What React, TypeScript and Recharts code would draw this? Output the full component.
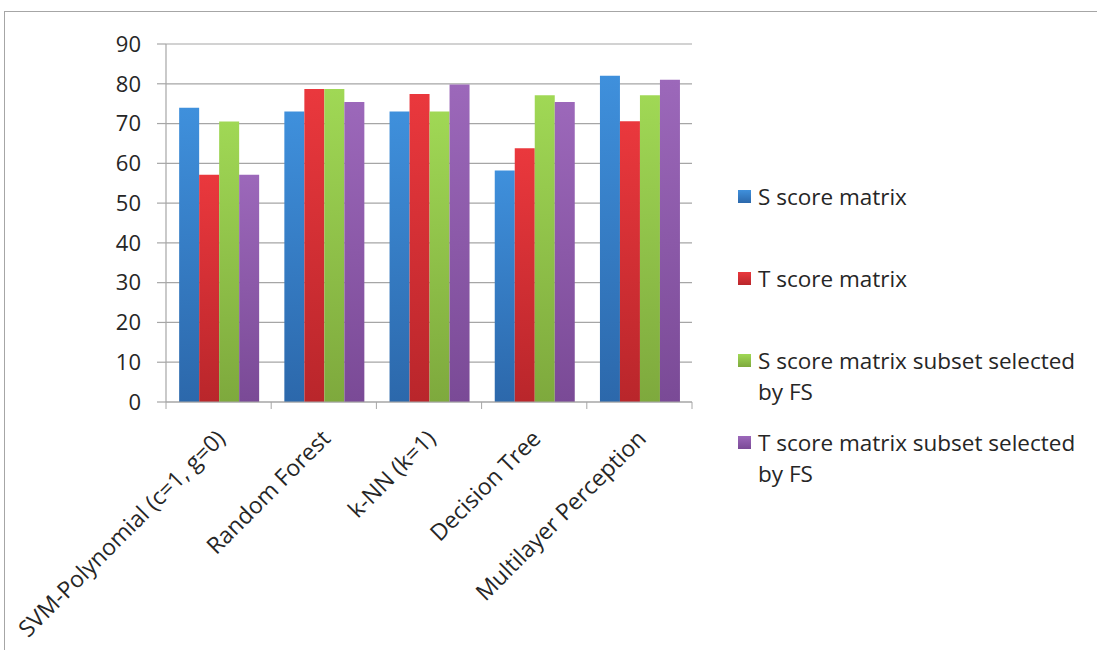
import React from 'react';
import { BarChart, Bar, XAxis, YAxis, CartesianGrid, Legend } from 'recharts';

// Classifier names along the category axis
const categories = [
  'SVM-Polynomial (c=1, g=0)',
  'Random Forest',
  'k-NN (k=1)',
  'Decision Tree',
  'Multilayer Perception',
];

// Accuracy values per classifier for each score matrix variant
const sScoreMatrix = [74, 73, 73, 58.2, 82];
const tScoreMatrix = [57.1, 78.7, 77.4, 63.8, 70.6];
const sScoreSubset = [70.5, 78.7, 73, 77.1, 77.1];
const tScoreSubset = [57.1, 75.4, 79.8, 75.4, 81];

const yTicks = [0, 10, 20, 30, 40, 50, 60, 70, 80, 90];

const seriesNames = [
  'S score matrix',
  'T score matrix',
  'S score matrix subset selected by FS',
  'T score matrix subset selected by FS',
];

const series = [
  { key: 's', name: seriesNames[0], values: sScoreMatrix, top: '#3f90dc', bottom: '#2c68ab' },
  { key: 't', name: seriesNames[1], values: tScoreMatrix, top: '#ea383d', bottom: '#b9262b' },
  { key: 'sfs', name: seriesNames[2], values: sScoreSubset, top: '#a0d855', bottom: '#7ea93d' },
  { key: 'tfs', name: seriesNames[3], values: tScoreSubset, top: '#9c68ba', bottom: '#7a4a96' },
];

const data = categories.map((name, i) => {
  const row: Record<string, string | number> = { name };
  series.forEach((s) => {
    row[s.key] = s.values[i];
  });
  return row;
});

const FONT = '"Open Sans", "Liberation Sans", sans-serif';
const TEXT = '#262626';
const GRID = '#a6a6a6';

const CategoryTick = (props: any) => {
  const { x, y, payload, index, visibleTicksCount } = props;
  const half = payload && typeof payload.offset === 'number' ? payload.offset : 0;
  const isLast = index === (visibleTicksCount ?? categories.length) - 1;
  const ax = x + 8;
  const ay = y + 38;
  return (
    <g>
      <line x1={x - half} x2={x - half} y1={y} y2={y + 7} stroke={GRID} strokeWidth={1} />
      {isLast && <line x1={x + half} x2={x + half} y1={y} y2={y + 7} stroke={GRID} strokeWidth={1} />}
      <text
        x={ax}
        y={ay}
        textAnchor="end"
        transform={`rotate(-45 ${ax} ${ay})`}
        fontFamily={FONT}
        fontSize={23}
        fill={TEXT}
      >
        {payload.value}
      </text>
    </g>
  );
};

const LegendContent = () => (
  <div style={{ fontFamily: FONT, fontSize: 22.5, color: TEXT }}>
    {series.map((s) => (
      <div key={s.key} style={{ display: 'flex', alignItems: 'flex-start', height: 82 }}>
        <span
          style={{
            display: 'inline-block',
            width: 13,
            height: 13,
            marginTop: 9,
            marginRight: 7,
            flex: '0 0 auto',
            background: `linear-gradient(${s.top}, ${s.bottom})`,
          }}
        />
        <span style={{ width: 330, lineHeight: '31px' }}>{s.name}</span>
      </div>
    ))}
  </div>
);

export default function App() {
  return (
    <div style={{ position: 'absolute', left: 0, top: 0, width: 1097, height: 650, overflow: 'hidden', background: '#fff' }}>
      <div
        style={{
          position: 'absolute',
          left: 4,
          top: 11,
          width: 1200,
          height: 800,
          border: '1px solid #a6a6a6',
        }}
      />
      <div style={{ position: 'absolute', left: 0, top: 0 }}>
        <BarChart
          width={1097}
          height={650}
          data={data}
          margin={{ top: 44, right: 46, left: 0, bottom: 0 }}
          barCategoryGap="12.5%"
          barGap={0}
        >
          <defs>
            {series.map((s) => (
              <linearGradient key={s.key} id={`grad-${s.key}`} x1="0" y1="0" x2="0" y2="1">
                <stop offset="0%" stopColor={s.top} />
                <stop offset="100%" stopColor={s.bottom} />
              </linearGradient>
            ))}
          </defs>
          <CartesianGrid vertical={false} stroke={GRID} strokeWidth={1.2} />
          <XAxis
            dataKey="name"
            height={248}
            interval={0}
            tickSize={0}
            tickMargin={0}
            tickLine={false}
            axisLine={{ stroke: GRID, strokeWidth: 1.2 }}
            tick={<CategoryTick />}
          />
          <YAxis
            width={166}
            domain={[0, 90]}
            ticks={yTicks}
            interval={0}
            tickSize={9}
            tickMargin={16}
            axisLine={{ stroke: GRID, strokeWidth: 1.2 }}
            tickLine={{ stroke: GRID, strokeWidth: 1.2 }}
            tick={{ fontFamily: FONT, fontSize: 22, fill: TEXT }}
          />
          <Legend
            layout="vertical"
            align="right"
            verticalAlign="top"
            content={<LegendContent />}
            wrapperStyle={{ top: 181, left: 738, width: 359 }}
          />
          {series.map((s) => (
            <Bar
              key={s.key}
              dataKey={s.key}
              name={s.name}
              fill={`url(#grad-${s.key})`}
              isAnimationActive={false}
            />
          ))}
        </BarChart>
      </div>
    </div>
  );
}
